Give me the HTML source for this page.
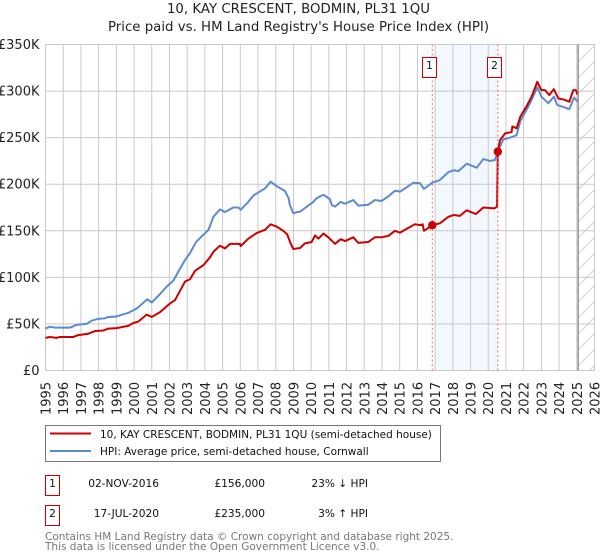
<!DOCTYPE html>
<html>
<head>
<meta charset="utf-8">
<style>
html,body{margin:0;padding:0;background:#fff;width:600px;height:560px;overflow:hidden}
svg{display:block;font-family:"DejaVu Sans","Liberation Sans",sans-serif}
</style>
</head>
<body>
<svg id="chart" width="600" height="560" viewBox="0 0 600 560" xmlns="http://www.w3.org/2000/svg">
  <defs>
    <pattern id="hatch" width="16" height="16" patternUnits="userSpaceOnUse" patternTransform="translate(579 45)">
      <path d="M0 16L16 0" stroke="#d0d0d0" stroke-width="1" fill="none"/>
    </pattern>
  </defs>
  <text x="298.5" y="13" font-size="13.33" text-anchor="middle" fill="#222">10, KAY CRESCENT, BODMIN, PL31 1QU</text>
  <text x="298.5" y="31" font-size="13.33" text-anchor="middle" fill="#222">Price paid vs. HM Land Registry's House Price Index (HPI)</text>
  <g id="bands"></g>
  <g id="grid"></g>
  <g id="xticks"></g>
  <g id="yticks"></g>
  <g id="series"></g>
  <g id="markers"></g>

  <rect x="45.5" y="425.5" width="395" height="36" fill="#fff" stroke="#777" stroke-width="1"/>
  <line x1="50" y1="433.5" x2="91" y2="433.5" stroke="#cc0000" stroke-width="2"/>
  <text x="100" y="438" font-size="10.5" fill="#111">10, KAY CRESCENT, BODMIN, PL31 1QU (semi-detached house)</text>
  <line x1="50" y1="451" x2="91" y2="451" stroke="#5b8bd0" stroke-width="2"/>
  <text x="100" y="455" font-size="10.5" fill="#111">HPI: Average price, semi-detached house, Cornwall</text>

  <rect x="45.5" y="475.5" width="14" height="20" fill="#fff" stroke="#cc0000" stroke-width="1"/>
  <text x="52.5" y="487" font-size="10.6" text-anchor="middle" fill="#111">1</text>
  <text x="159" y="487" font-size="10.6" text-anchor="end" fill="#111">02-NOV-2016</text>
  <text x="265" y="487" font-size="10.6" text-anchor="end" fill="#111">£156,000</text>
  <text x="368" y="487" font-size="10.6" text-anchor="end" fill="#111">23% ↓ HPI</text>

  <rect x="45.5" y="505.5" width="14" height="20" fill="#fff" stroke="#cc0000" stroke-width="1"/>
  <text x="52.5" y="517" font-size="10.6" text-anchor="middle" fill="#111">2</text>
  <text x="159" y="517" font-size="10.6" text-anchor="end" fill="#111">17-JUL-2020</text>
  <text x="265" y="517" font-size="10.6" text-anchor="end" fill="#111">£235,000</text>
  <text x="368" y="517" font-size="10.6" text-anchor="end" fill="#111">3% ↑ HPI</text>

  <text x="45" y="540" font-size="10.5" fill="#777">Contains HM Land Registry data © Crown copyright and database right 2025.</text>
  <text x="45" y="550" font-size="10.5" fill="#777">This data is licensed under the Open Government Licence v3.0.</text>
</svg>
<script>
var yearTicks = [1995,1996,1997,1998,1999,2000,2001,2002,2003,2004,2005,2006,2007,2008,2009,2010,2011,2012,2013,2014,2015,2016,2017,2018,2019,2020,2021,2022,2023,2024,2025,2026];
var valueTicks = [0,50,100,150,200,250,300,350];
var valueTickLabels = ["£0","£50K","£100K","£150K","£200K","£250K","£300K","£350K"];

var hpiDates = [1995,1995.25,1995.53,1996.38,1996.76,1997.32,1997.6,1997.98,1998.35,1998.55,1999.02,1999.68,2000.15,2000.75,2001,2001.46,2001.84,2002.22,2002.6,2002.88,2003.16,2003.5,2004.2,2004.48,2004.85,2005.13,2005.6,2005.9,2006.02,2006.45,2006.75,2007.4,2007.71,2008.05,2008.52,2008.73,2008.8,2008.99,2009.18,2009.37,2010.12,2010.31,2010.69,2011.06,2011.16,2011.35,2011.67,2011.91,2012.38,2012.66,2013.23,2013.6,2013.98,2014.36,2014.73,2015.02,2015.39,2015.77,2016.15,2016.37,2016.84,2017.27,2017.75,2018.07,2018.31,2018.78,2019.35,2019.72,2020.1,2020.38,2020.57,2020.85,2021.23,2021.6,2021.8,2022.36,2022.77,2023,2023.39,2023.71,2023.9,2024.24,2024.58,2024.84,2025.05];
var hpiValues = [45,47,46,46,49,50,53.5,55.5,56,57.5,58,62,66.5,76.5,73,82,90,96.5,109.5,118.6,126,138,151,165,173,170,175,175,172.5,181,188,195.6,202.7,198,192.7,185,177.7,168.8,170,170.5,181,185,188.7,184,177.7,176,181,179,183,177,178,183,182,187,193,192,196.7,201.6,201,195,201.6,204.5,213,215,214,222,217.7,227,225,226,236.7,248,250,252.7,267,287,304,294,287,294,285,283,280.6,293,288.6];

var priceDates = [1995,1995.25,1995.62,1995.81,1996.57,1996.85,1997.42,1997.8,1998.27,1998.55,1999.02,1999.68,1999.96,2000.24,2000.71,2001,2001.46,2002.03,2002.31,2002.88,2003.16,2003.44,2003.91,2004.29,2004.48,2004.85,2005.13,2005.42,2005.98,2006.02,2006.45,2006.92,2007.4,2007.71,2008.05,2008.43,2008.65,2008.84,2008.99,2009.37,2009.65,2010.03,2010.22,2010.41,2010.69,2010.97,2011.35,2011.67,2011.91,2012.38,2012.66,2013.23,2013.6,2013.98,2014.36,2014.73,2015.02,2015.39,2015.86,2016.15,2016.3,2016.37,2016.84,2017.27,2017.75,2018.07,2018.4,2018.78,2019.31,2019.72,2020.34,2020.5,2020.54,2020.66,2020.95,2021.32,2021.36,2021.6,2021.8,2022.17,2022.45,2022.77,2023,2023.2,2023.45,2023.7,2023.96,2024.24,2024.58,2024.8,2024.95,2025.05];
var priceValues = [35,36,35,36,36,38,39.5,42.4,43,45,45.5,48,51,52.5,60,57.5,62.5,72,75.5,95.5,98,107,113,121.5,127.5,134,131,136,136,133.5,141.5,147.5,151,157,154.5,150,146,136.5,130.5,131.5,136.5,138,145,141.5,147,143,136,141,139,143,137,138,143,143,144.5,150,148,152,157,156,157,150,156,158,165,167,166,172,168,175,174,176,235,247,254.6,256,262,260,272,284,294,310,301,301,295.7,302,292,291,288.6,301,301,296];

var saleDates = [2016.84,2020.54];
var salePrices = [156,235];
var saleLabels = ["1","2"];
var lastDataYear = 2025.08;

var NS = "http://www.w3.org/2000/svg";
var plotLeft = 45.5, plotRight = 594.5, plotTop = 44.5, plotBottom = 370.5;
function xScale(year){ return plotLeft + (year - 1995) * (plotRight - plotLeft) / 31; }
function yScale(val){ return plotBottom - val * (plotBottom - plotTop) / 350; }
function make(tag, attrs, parent){
  var el = document.createElementNS(NS, tag);
  for (var k in attrs) el.setAttribute(k, attrs[k]);
  document.getElementById(parent).appendChild(el);
  return el;
}
var el;

el = make("rect", {x: xScale(saleDates[0]) + 2.5, y: plotTop, width: xScale(saleDates[1]) - xScale(saleDates[0]) - 2.5, height: plotBottom - plotTop, fill: "#f3f7fe"}, "bands");



yearTicks.forEach(function(y){
  var g = make("line", {x1: xScale(y), x2: xScale(y), y1: plotTop, y2: plotBottom, stroke: "#c9c9c9", "stroke-width": 1}, "grid");
  
  
  var px = xScale(y);
  var t = make("text", {x: 0, y: 0, transform: "translate(" + (px + 5) + ",415) rotate(-90)", "font-size": 13, fill: "#222"}, "xticks");
  
  
  t.textContent = y;
});

valueTicks.forEach(function(v, i){
  var g = make("line", {x1: plotLeft, x2: plotRight, y1: yScale(v), y2: yScale(v), stroke: "#c9c9c9", "stroke-width": 1}, "grid");
  
  
  var t = make("text", {x: 39.5, y: yScale(v) + 4.5, "text-anchor": "end", "font-size": 13, fill: "#222"}, "yticks");
  
  
  t.textContent = valueTickLabels[i];
});

el = make("rect", {x: xScale(lastDataYear), y: plotTop, width: plotRight - xScale(lastDataYear), height: plotBottom - plotTop, fill: "url(#hatch)"}, "bands");



el = make("line", {x1: xScale(lastDataYear), x2: xScale(lastDataYear), y1: plotTop, y2: plotBottom, stroke: "#999", "stroke-width": 1.5}, "markers");



function pathFrom(dates, vals){
  return dates.map(function(d, i){ return (i ? "L" : "M") + xScale(d).toFixed(2) + " " + yScale(vals[i]).toFixed(2); }).join("");
}
el = make("path", {d: pathFrom(hpiDates, hpiValues), fill: "none", stroke: "#5b8bd0", "stroke-width": 2, "stroke-linejoin": "round"}, "series");


el = make("path", {d: pathFrom(priceDates, priceValues), fill: "none", stroke: "#cc0000", "stroke-width": 2, "stroke-linejoin": "round"}, "series");



saleDates.forEach(function(d, i){
  var px = xScale(d);
  var l = make("line", {x1: px, x2: px, y1: plotTop, y2: plotBottom, stroke: "#f07070", "stroke-width": 1, "stroke-dasharray": "2 2.5"}, "markers");
  
  
  var p = make("circle", {cx: px, cy: yScale(salePrices[i]), r: 4.2, fill: "#cc0000"}, "markers");
  
  
  var b = make("rect", {x: Math.floor(px) - 10 + 0.5, y: 57.5, width: 14, height: 20, fill: "#fff", stroke: "#cc0000", "stroke-width": 1}, "markers");
  
  
  var t = make("text", {x: Math.floor(px) - 3 + 0.5, y: 69, "text-anchor": "middle", "font-size": 10.6, fill: "#111"}, "markers");
  
  
  t.textContent = saleLabels[i];
});
</script>
</body>
</html>
